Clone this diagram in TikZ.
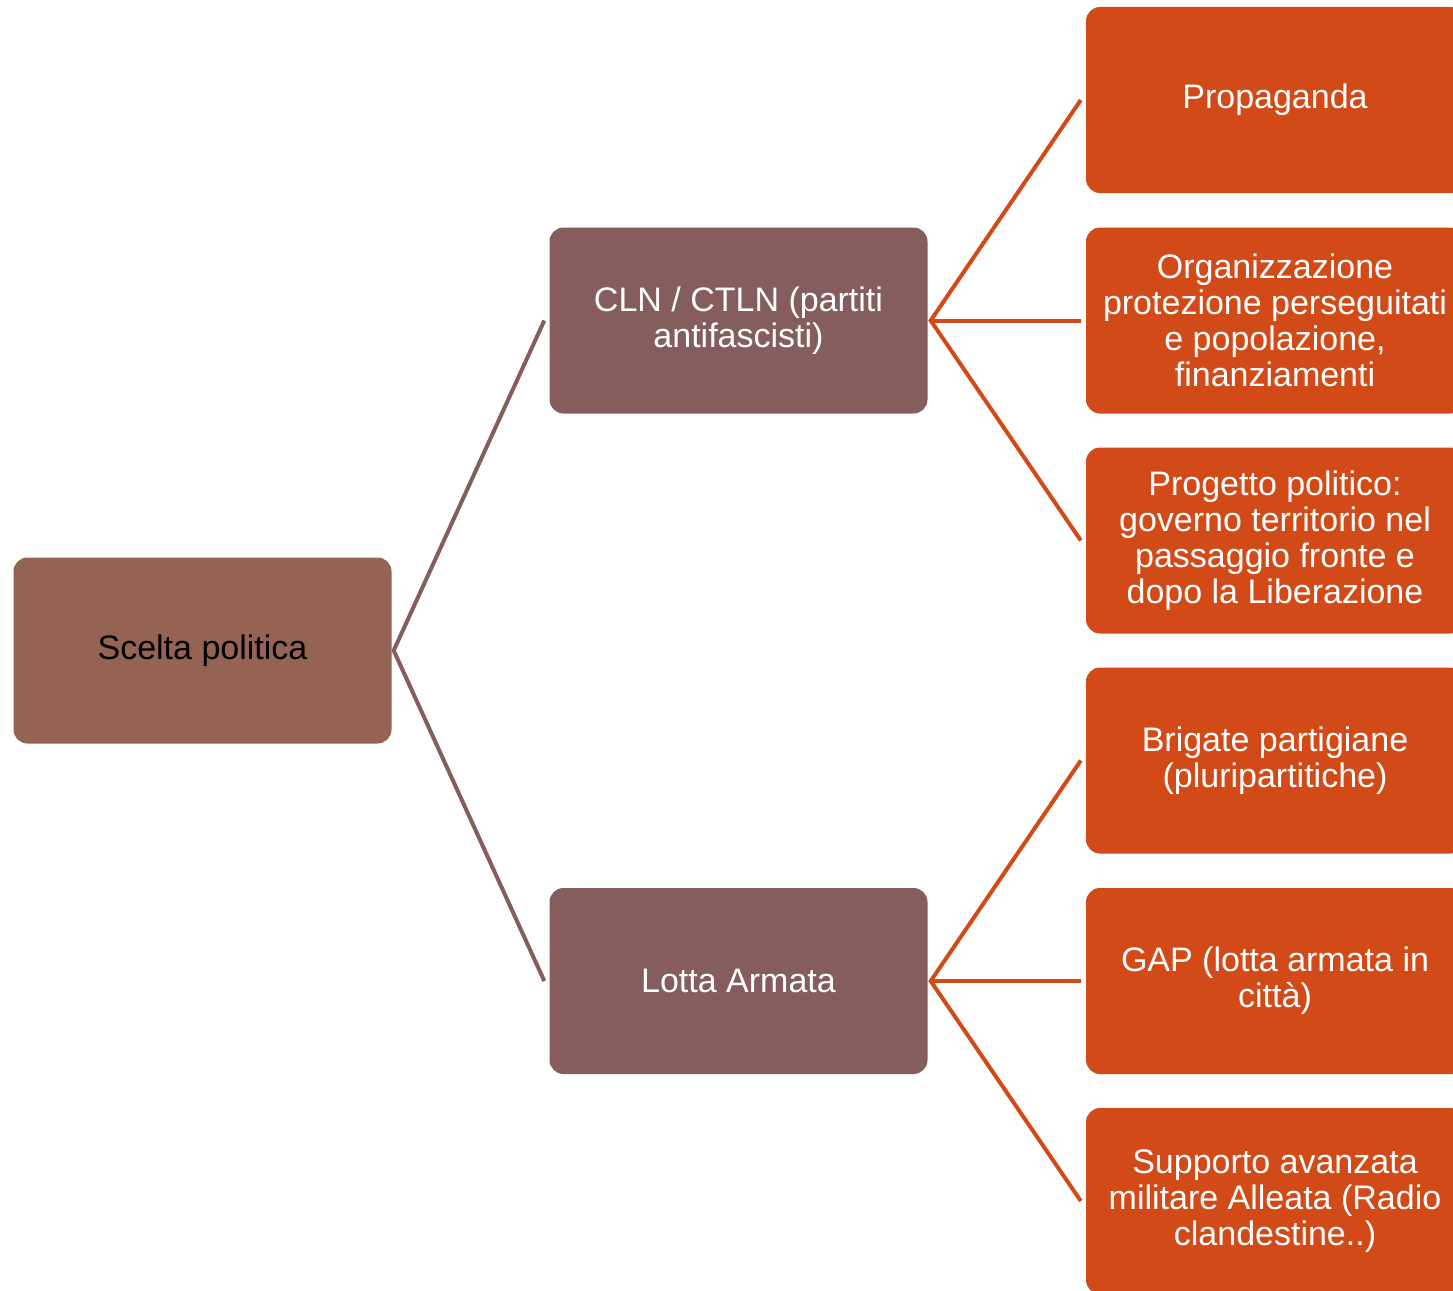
\documentclass[tikz,border=0pt]{standalone}
\usepackage{fontspec}
\setmainfont{Liberation Sans}
\definecolor{rootbrown}{HTML}{946353}
\definecolor{midbrown}{HTML}{855D5C}
\definecolor{leaforange}{HTML}{D24A18}
\tikzset{
  box/.style={rounded corners=14pt, minimum width=378pt, minimum height=186pt,
    inner sep=0pt, align=center, font=\fontsize{34}{36}\selectfont},
  rootbox/.style={box, fill=rootbrown, text=black},
  midbox/.style={box, fill=midbrown, text=white},
  leafbox/.style={box, fill=leaforange, text=white},
  midline/.style={draw=midbrown, line width=4pt},
  leafline/.style={draw=leaforange, line width=4pt},
}
\begin{document}
\begin{tikzpicture}[x=1pt,y=-1pt]
\useasboundingbox (0,0) rectangle (1453,1290);
\clip (0,0) rectangle (1453,1290);
\node[rootbox] (root) at (202.5,650.5) {Scelta politica};
\node[midbox] (cln) at (738.5,320.5) {CLN / CTLN (partiti\\antifascisti)};
\node[midbox] (lotta) at (738.5,981) {Lotta Armata};
\node[leafbox] (l1) at (1275,100) {Propaganda};
\node[leafbox] (l2) at (1275,320.5) {Organizzazione\\protezione perseguitati\\e popolazione,\\finanziamenti};
\node[leafbox] (l3) at (1275,540.5) {Progetto politico:\\governo territorio nel\\passaggio fronte e\\dopo la Liberazione};
\node[leafbox] (l4) at (1275,760.5) {Brigate partigiane\\(pluripartitiche)};
\node[leafbox] (l5) at (1275,981) {GAP (lotta armata in\\città)};
\node[leafbox] (l6) at (1275,1201) {Supporto avanzata\\militare Alleata (Radio\\clandestine..)};
\draw[midline] ([xshift=-5pt]cln.west) -- ([xshift=2pt]root.east) -- ([xshift=-5pt]lotta.west);
\draw[leafline] ([xshift=-5pt]l1.west) -- ([xshift=3pt]cln.east) -- ([xshift=-5pt]l3.west);
\draw[leafline] ([xshift=3pt]cln.east) -- ([xshift=-5pt]l2.west);
\draw[leafline] ([xshift=-5pt]l4.west) -- ([xshift=3pt]lotta.east) -- ([xshift=-5pt]l6.west);
\draw[leafline] ([xshift=3pt]lotta.east) -- ([xshift=-5pt]l5.west);
\end{tikzpicture}
\end{document}
